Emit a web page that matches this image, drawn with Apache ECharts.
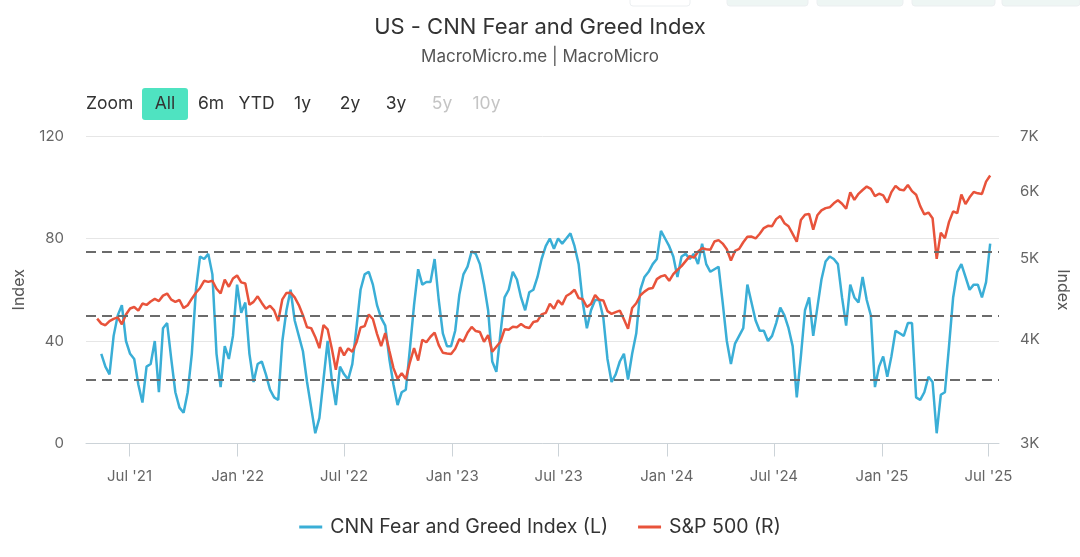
<!DOCTYPE html>
<html><head><meta charset="utf-8">
<script src="https://cdn.jsdelivr.net/npm/echarts@6/dist/echarts.min.js"></script>
<style>html,body{margin:0;padding:0;background:#fff;}#c{width:1080px;height:557px;}</style>
</head><body><div id="c"></div>
<script>
// Weekly observations (Fridays) starting 2021-05-07
const weekStart = '2021-05-07';

// CNN Fear and Greed Index (left axis), weekly readings
const fearGreed = [
  null,35,30,27,42,50,54,40,35,33,23,16,30,31,40,20,45,47,33,20,
  14,12,20,35,60,73,72,74,66,35,22,38,33,42,62,51,55,35,24,31,
  32,27,21,18,17,40,52,60,48,42,36,24,14,4,10,25,40,25,15,30,
  27,25,31,45,60,66,67,62,54,49,46,33,23,15,20,21,37,54,68,62,
  63,63,72,56,43,38,38,44,58,66,69,75,74,70,62,52,32,28,43,57,
  60,67,64,57,52,59,60,65,72,77,80,76,80,78,80,82,77,70,55,45,
  52,56,56,49,33,24,27,32,35,25,35,43,60,65,67,70,72,83,80,77,
  73,65,73,74,72,74,70,78,70,67,68,69,55,40,31,39,42,45,62,55,
  48,44,44,40,42,47,53,50,45,38,18,34,52,57,42,53,64,71,73,72,
  70,57,46,62,57,55,65,56,50,22,30,34,26,34,44,43,42,47,47,18,
  17,20,26,24,4,19,20,38,57,67,70,65,60,62,62,57,63,78
];

// S&P 500 (right axis, log), weekly readings
const spx500 = [
  4232,4174,4156,4204,4230,4247,4166,4281,4352,4370,4327,4412,4395,4437,4468,4442,4509,4535,4459,4433,
  4455,4357,4391,4471,4545,4605,4697,4683,4698,4595,4538,4712,4620,4726,4766,
  4677,4662,4398,4432,4500,4419,4349,4385,4329,4204,4463,4543,4546,4488,4393,4272,4132,4123,4024,3901,
  4158,4109,3901,3675,3912,3825,3899,3863,3962,4130,4145,4280,4228,4058,3924,4067,3873,3693,3586,3640,
  3583,3752,3901,3771,3993,3965,4026,4072,3934,3852,3845,3840,
  3895,3999,3973,4071,4136,4090,4079,3970,4045,3862,3917,3971,4109,4105,4138,4133,4169,4136,4124,4192,
  4205,4282,4299,4410,4348,4450,4399,4505,4536,4582,4478,4464,4370,4406,4516,4457,4450,4320,4288,4309,
  4327,4224,4117,4358,4415,4514,4559,4595,4604,4719,4755,4770,
  4697,4784,4840,4891,4959,5027,5006,5089,5137,5124,5117,5234,5254,5204,5123,4967,5100,5128,5223,5303,
  5305,5278,5347,5432,5465,5460,5567,5615,5505,5459,5346,5230,5554,5634,5648,5408,5626,5703,5738,5751,
  5815,5864,5808,5729,5995,5871,5969,6032,6090,6051,5931,5971,
  5942,5827,5997,6101,6041,6026,6115,6013,5955,5770,5639,5668,5581,4990,5363,5282,5525,5687,5660,5958,
  5803,5912,6000,5977,5967,6173,6279
];

const xTickDates = ['2021-07-01','2022-01-01','2022-07-01','2023-01-01','2023-07-01','2024-01-01','2024-07-01','2025-01-01','2025-07-01'];
const leftTicks = [0, 40, 80, 120];
const rightTicks = [3000, 4000, 5000, 6000, 7000];
const refLevels = [25, 50, 75];
const zoomButtons = ['6m','YTD','1y','2y','3y','5y','10y'];
const monthNames = ['Jan','Feb','Mar','Apr','May','Jun','Jul','Aug','Sep','Oct','Nov','Dec'];

function ts(s){ const p = s.split('-').map(Number); return Date.UTC(p[0], p[1]-1, p[2]); }
const DAY = 86400000;
const t0 = ts(weekStart);
const weekTs = spx500.map((_, i) => t0 + i * 7 * DAY);
const fgData = fearGreed.map((v, i) => [weekTs[i], v]);
const spxData = spx500.map((v, i) => [weekTs[i], v]);
const xTicks = xTickDates.map(ts);

const FONT = 'Inter';
const BLUE = '#3aaed6';
const RED = '#e8533b';

const chart = echarts.init(document.getElementById('c'), null, {renderer: 'canvas'});

const btnX = [211, 256.5, 302.5, 350, 396, 442, 486.5];
const graphics = [
  {type:'text', x: 86, y: 104, style:{text:'Zoom', fontSize:17.5, fontFamily:FONT, fill:'#333', verticalAlign:'middle'}},
  {type:'rect', shape:{x:142, y:88, width:46, height:32, r:3}, style:{fill:'#4fe3c1'}},
  {type:'text', x:165, y:104, style:{text:'All', fontSize:17.5, fontFamily:FONT, fill:'#333', align:'center', verticalAlign:'middle'}},
];
zoomButtons.forEach((b, i) => {
  graphics.push({type:'text', x: btnX[i], y: 104, style:{text:b, fontSize:17.5, fontFamily:FONT, fill: (b==='5y'||b==='10y') ? '#c4c4c4' : '#333', align:'center', verticalAlign:'middle'}});
});
[[630,60,'#ffffff'],[727,81,'#eef6f4'],[817,86,'#eef6f4'],[912,83,'#eef6f4'],[1002,78,'#eef6f4']].forEach(b=>{
  graphics.push({type:'rect', shape:{x:b[0], y:-10, width:b[1], height:16, r:3}, style:{fill:b[2], stroke:'#eceff1', lineWidth:1}});
});

chart.setOption({
  backgroundColor: '#ffffff',
  animation: false,
  textStyle: {fontFamily: FONT},
  title: {
    text: 'US - CNN Fear and Greed Index',
    subtext: 'MacroMicro.me | MacroMicro',
    left: 'center', top: 11, itemGap: 10,
    textStyle: {fontSize: 22, fontWeight: 'normal', color: '#333', fontFamily: FONT},
    subtextStyle: {fontSize: 17, color: '#555', fontFamily: FONT}
  },
  graphic: graphics,
  legend: {
    bottom: 15, left: 'center', icon: 'rect', itemWidth: 23, itemHeight: 3, itemGap: 30,
    textStyle: {fontSize: 19.5, color: '#333', fontFamily: FONT, padding: [0, 0, 0, 3]},
    data: ['CNN Fear and Greed Index (L)', 'S&P 500 (R)']
  },
  grid: {left: 86, right: 81, top: 136, bottom: 113.5, containLabel: false},
  xAxis: {
    type: 'value',
    min: ts('2021-04-18'), max: ts('2025-07-19'),
    axisLine: {lineStyle: {color: '#ccd3d8', width: 1}},
    axisTick: {show: true, length: 13, lineStyle: {color: '#ccd3d8'}, customValues: xTicks},
    splitLine: {show: false},
    axisLabel: {
      customValues: xTicks, margin: 25, fontSize: 15, color: '#666', fontFamily: FONT, hideOverlap: false,
      formatter: function (v) { const d = new Date(v); return monthNames[d.getUTCMonth()] + " '" + String(d.getUTCFullYear()).slice(2); }
    }
  },
  yAxis: [
    {
      type: 'value', min: leftTicks[0], max: leftTicks[leftTicks.length-1], interval: 40,
      name: 'Index', nameLocation: 'middle', nameGap: 59, nameRotate: 90,
      nameTextStyle: {fontSize: 16, color: '#555', fontFamily: FONT},
      axisLine: {show: false}, axisTick: {show: false},
      axisLabel: {fontSize: 15, color: '#666', margin: 22, fontFamily: FONT},
      splitLine: {lineStyle: {color: '#e6e6e6', width: 1}}
    },
    {
      type: 'log', logBase: 10, min: rightTicks[0], max: rightTicks[rightTicks.length-1], position: 'right',
      name: 'Index', nameLocation: 'middle', nameGap: 56, nameRotate: -90,
      nameTextStyle: {fontSize: 16, color: '#555', fontFamily: FONT},
      axisLine: {show: false}, axisTick: {show: false},
      axisLabel: {customValues: rightTicks, fontSize: 15, color: '#666', margin: 21, fontFamily: FONT,
        formatter: function (v) { return Math.round(v/1000) + 'K'; }},
      splitLine: {show: false}
    }
  ],
  series: [
    {
      name: 'CNN Fear and Greed Index (L)', type: 'line', yAxisIndex: 0, data: fgData,
      showSymbol: false, symbol: 'none', lineStyle: {color: BLUE, width: 2.5}, itemStyle: {color: BLUE},
      markLine: {
        silent: true, symbol: 'none', label: {show: false},
        lineStyle: {color: '#6b6b6b', type: [10, 6], width: 2},
        data: refLevels.map(v => ({yAxis: v}))
      }
    },
    {
      name: 'S&P 500 (R)', type: 'line', yAxisIndex: 1, data: spxData,
      showSymbol: false, symbol: 'none', lineStyle: {color: RED, width: 2.5}, itemStyle: {color: RED}
    }
  ]
});
</script>
</body></html>
